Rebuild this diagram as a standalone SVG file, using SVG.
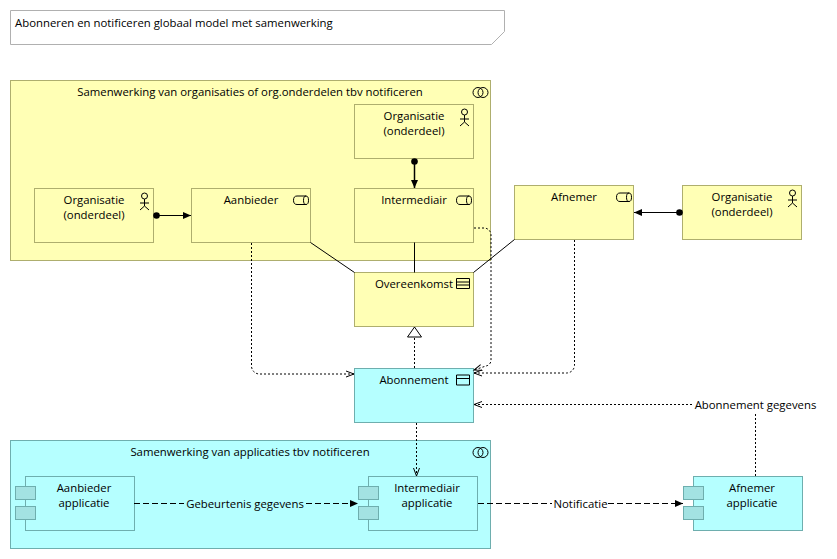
<svg xmlns="http://www.w3.org/2000/svg" width="837" height="559" viewBox="0 0 837 559">
<style>
text{font-family:"Open Sans","Noto Sans","Liberation Sans",sans-serif;font-size:11.36px;fill:#000;text-anchor:middle}
.y{fill:#ffffb5;stroke:#aeae6e;stroke-width:1}
.c{fill:#b5ffff;stroke:#6eaeae;stroke-width:1}
.t{fill:#a3e2e2;stroke:#6eaeae;stroke-width:1}
.i{fill:none;stroke:#000;stroke-width:1}
.s{fill:none;stroke:#000;stroke-width:1}
.b{fill:none;stroke:#000;stroke-width:1}
.d{fill:none;stroke:#000;stroke-width:1;stroke-dasharray:2 2}
.da{fill:none;stroke:#000;stroke-width:1;stroke-dasharray:6 3}
</style>
<defs>
<g id="actor" class="i"><circle cx="0" cy="3" r="3"/><path d="M0 6V13M-4.500 10H4.500M-4.500 17L0 13L4.500 17"/></g>
<g id="role" class="i"><path d="M4 0.500H13a2.500 4.250 0 0 1 0 8.500H4a3.500 4.250 0 0 1 0-8.500z"/><path d="M13 0.500a2.500 4.250 0 0 0 0 8.500"/></g>
<g id="collab" class="i"><circle cx="5" cy="5" r="5"/><circle cx="10" cy="5" r="5"/></g>
<marker id="open" markerUnits="userSpaceOnUse" markerWidth="10" markerHeight="10" refX="8" refY="5" orient="auto"><path d="M0 2L8 5L0 8" fill="none" stroke="#000"/></marker>
<marker id="fill" markerUnits="userSpaceOnUse" markerWidth="10" markerHeight="10" refX="8" refY="5" orient="auto"><path d="M0 1.500L8 5L0 8.500z" fill="#000"/></marker>
<marker id="dot" markerUnits="userSpaceOnUse" markerWidth="8" markerHeight="8" refX="4" refY="4" orient="auto"><circle cx="4" cy="4" r="3.300" fill="#000"/></marker>
<marker id="tri" markerUnits="userSpaceOnUse" markerWidth="12" markerHeight="16" refX="11" refY="8" orient="auto"><path d="M1 1L11 8L1 15z" fill="#fff" stroke="#000"/></marker>
</defs>

<g id="note"><path d="M10.500 10.500H504.500V31.500L491.500 44.500H10.500z" fill="#fff" stroke="#b0b0b0"/><text x="15" y="27" style="text-anchor:start">Abonneren en notificeren globaal model met samenwerking</text></g>

<g id="group-organisaties"><rect class="y" x="10.500" y="80.500" width="480" height="180"/><text x="250" y="96">Samenwerking van organisaties of org.onderdelen tbv notificeren</text><use href="#collab" x="473" y="87.500"/></g>
<g id="group-applicaties"><rect class="c" x="10.500" y="440.500" width="480" height="108"/><text x="250" y="456">Samenwerking van applicaties tbv notificeren</text><use href="#collab" x="473" y="447.500"/></g>

<g id="org-top"><rect class="y" x="354.500" y="104.500" width="119" height="54"/><text x="414" y="120">Organisatie</text><text x="414" y="135">(onderdeel)</text><use href="#actor" x="464.500" y="109"/></g>
<g id="org-left"><rect class="y" x="34.500" y="188.500" width="119" height="54"/><text x="94" y="204">Organisatie</text><text x="94" y="219">(onderdeel)</text><use href="#actor" x="144.500" y="193"/></g>
<g id="aanbieder"><rect class="y" x="191.500" y="188.500" width="119" height="54"/><text x="251" y="204">Aanbieder</text><use href="#role" x="293" y="195.500"/></g>
<g id="intermediair"><rect class="y" x="354.500" y="188.500" width="119" height="54"/><text x="414" y="204">Intermediair</text><use href="#role" x="456" y="195.500"/></g>
<g id="afnemer"><rect class="y" x="514.500" y="185.500" width="119" height="54"/><text x="574" y="201">Afnemer</text><use href="#role" x="616" y="192.500"/></g>
<g id="org-right"><rect class="y" x="682.500" y="185.500" width="119" height="54"/><text x="742" y="201">Organisatie</text><text x="742" y="216">(onderdeel)</text><use href="#actor" x="792.500" y="190"/></g>
<g id="overeenkomst"><rect class="y" x="354.500" y="272.500" width="119" height="54"/><text x="414" y="288">Overeenkomst</text><path class="i" d="M456.500 278.500H469.500V288.500H456.500zM456.500 282H469.500M456.500 285H469.500"/></g>
<g id="abonnement"><rect class="c" x="354.500" y="368.500" width="119" height="54"/><text x="414" y="384">Abonnement</text><path class="i" d="M456.500 375H469.500V385H456.500zM456.500 378.500H469.500"/></g>

<g id="app-aanbieder"><rect class="c" x="25.500" y="476.500" width="109" height="54"/><rect class="t" x="15.500" y="486.500" width="20" height="13"/><rect class="t" x="15.500" y="506.500" width="20" height="13"/><text x="84" y="492">Aanbieder</text><text x="84" y="507">applicatie</text></g>
<g id="app-intermediair"><rect class="c" x="368.500" y="476.500" width="109" height="54"/><rect class="t" x="358.500" y="486.500" width="20" height="13"/><rect class="t" x="358.500" y="506.500" width="20" height="13"/><text x="427" y="492">Intermediair</text><text x="427" y="507">applicatie</text></g>
<g id="app-afnemer"><rect class="c" x="693.500" y="476.500" width="109" height="54"/><rect class="t" x="683.500" y="486.500" width="20" height="13"/><rect class="t" x="683.500" y="506.500" width="20" height="13"/><text x="752" y="492">Afnemer</text><text x="752" y="507">applicatie</text></g>

<g id="connectors">
<path class="b" d="M156.500 215.500H191" marker-start="url(#dot)" marker-end="url(#fill)"/>
<path class="b" style="stroke-width:1.500" d="M414.500 161.500V188" marker-start="url(#dot)" marker-end="url(#fill)"/>
<path class="b" d="M679.500 212.500H634" marker-start="url(#dot)" marker-end="url(#fill)"/>
<path class="s" d="M310.500 242.500L354.500 272.500"/>
<path class="s" d="M414.500 242.500V272.500"/>
<path class="s" d="M514.500 239.500L473.500 272.500"/>
<path class="d" d="M414.500 368V327" marker-end="url(#tri)"/>
<path class="d" d="M251.500 243V366a8 8 0 0 0 8 8H354" marker-end="url(#open)"/>
<path class="d" d="M474 228H484a7 7 0 0 1 7 7V360a6 6 0 0 1-5 6L474 370" marker-end="url(#open)"/>
<path class="d" d="M574.500 240V365a8 8 0 0 1-8 8H474" marker-end="url(#open)"/>
<path class="d" d="M692 404.500H474" marker-end="url(#open)"/>
<path class="d" d="M755.500 476V414"/>
<path class="d" d="M416.500 423V476" marker-end="url(#open)"/>
<path class="da" d="M134 503.500H184"/>
<path class="da" d="M306 503.500H358" marker-end="url(#fill)"/>
<path class="da" d="M478 503.500H552"/>
<path class="da" d="M608 503.500H683" marker-end="url(#fill)"/>
</g>
<text x="245" y="507.500">Gebeurtenis gegevens</text>
<text x="580.500" y="507.500">Notificatie</text>
<text x="755.500" y="408.500">Abonnement gegevens</text>
</svg>
